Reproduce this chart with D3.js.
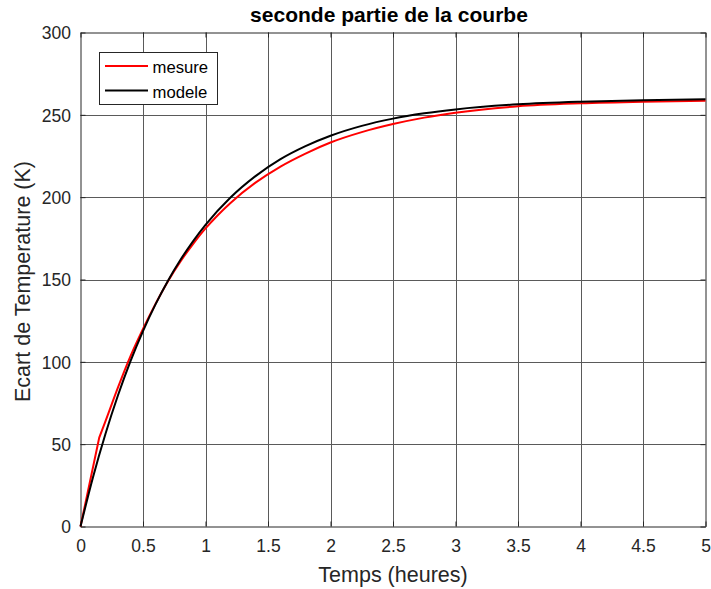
<!DOCTYPE html>
<html><head><meta charset="utf-8">
<script src="https://cdn.jsdelivr.net/npm/d3@7/dist/d3.min.js"></script>
<style>body{margin:0;background:#fff}svg{display:block}text{font-family:"Liberation Sans",Arial,sans-serif}</style>
</head><body>
<script>
const title = "seconde partie de la courbe";
const xLabel = "Temps (heures)";
const yLabel = "Ecart de Temperature (K)";
const xTicks = [0,0.5,1,1.5,2,2.5,3,3.5,4,4.5,5];
const yTicks = [0,50,100,150,200,250,300];
const seriesNames = ["mesure","modele"];
const seriesColors = ["#ff0000","#000000"];
const mesureT = [0,0.15,0.2,0.3,0.4,0.5,0.6,0.7,0.8,0.9,1.0,1.1,1.2,1.4,1.6,1.8,2.0,2.25,2.5,2.75,3.0,3.5,4.0,4.5,5.0];
const mesureV = [0,54,64,84.5,103.5,120,135.2,149,161,171.5,181,189.2,196.5,208.8,218.6,226.5,233.2,239.5,244.4,248.3,251.3,255.2,257,258,258.6];
const modeleT = [0,0.1,0.2,0.3,0.4,0.5,0.6,0.7,0.8,0.9,1.0,1.2,1.4,1.6,1.8,2.0,2.25,2.5,2.75,3.0,3.5,4.0,4.5,5.0];
const modeleV = [0,29.9,56.3,79.7,100.4,118.7,134.9,149.3,162.0,173.2,183.2,199.8,212.8,223.1,231.0,237.3,243.3,247.7,250.9,253.3,256.4,258.0,258.9,259.4];

const W=711,H=589;
const m={l:80.5,r:705.5,t:32.5,b:526.5};
const FONT='"Liberation Sans",Arial,sans-serif';
const svg=d3.select("body").append("svg").attr("width",W).attr("height",H);
const x=d3.scaleLinear().domain([0,5]).range([m.l,m.r]);
const y=d3.scaleLinear().domain([0,300]).range([m.b,m.t]);

// grid
const g=svg.append("g");
g.selectAll(".gx").data(xTicks.slice(1,-1)).enter().append("line")
 .attr("x1",d=>Math.round(x(d))+0.5).attr("x2",d=>Math.round(x(d))+0.5).attr("y1",m.t).attr("y2",m.b)
 .attr("stroke","#5a5a5a").attr("stroke-width",1);
g.selectAll(".gy").data(yTicks.slice(1,-1)).enter().append("line")
 .attr("y1",d=>Math.round(y(d))+0.5).attr("y2",d=>Math.round(y(d))+0.5).attr("x1",m.l).attr("x2",m.r)
 .attr("stroke","#5a5a5a").attr("stroke-width",1);

// axes
const axColor="#262626";
const xa=svg.append("g").attr("transform",`translate(0,${m.b})`).call(d3.axisBottom(x).tickValues(xTicks).tickFormat(d3.format("")).tickSizeInner(-5).tickSizeOuter(0).tickPadding(13));
const ya=svg.append("g").attr("transform",`translate(${m.l},0)`).call(d3.axisLeft(y).tickValues(yTicks).tickSizeInner(-5).tickSizeOuter(0).tickPadding(9.5));
const xt=svg.append("g").attr("transform",`translate(0,${m.t})`).call(d3.axisTop(x).tickValues(xTicks).tickFormat("").tickSizeInner(-5).tickSizeOuter(0));
const yr=svg.append("g").attr("transform",`translate(${m.r},0)`).call(d3.axisRight(y).tickValues(yTicks).tickFormat("").tickSizeInner(-5).tickSizeOuter(0));
[xa,ya,xt,yr].forEach(a=>{a.selectAll("path,line").attr("stroke",axColor);a.selectAll("text").attr("fill",axColor).style("font-size","17.5px").style("font-family",FONT);});
ya.selectAll("text").attr("dy","0.36em");

// lines
const line=d3.line().x(d=>x(d[0])).y(d=>y(d[1])).curve(d3.curveMonotoneX);
const mes=d3.zip(mesureT,mesureV), mod=d3.zip(modeleT,modeleV);
svg.append("path").attr("d",d3.line().x(d=>x(d[0])).y(d=>y(d[1]))(mes.slice(0,2))+line(mes.slice(1)).replace(/^M/,"L")).attr("fill","none").attr("stroke",seriesColors[0]).attr("stroke-width",2);
svg.append("path").datum(mod).attr("d",line).attr("fill","none").attr("stroke",seriesColors[1]).attr("stroke-width",2);

// titles
svg.append("text").attr("x",389).attr("y",22).attr("text-anchor","middle").style("font-weight","bold").style("font-size","21px").attr("fill","#000").text(title);
svg.append("text").attr("x",(m.l+m.r)/2).attr("y",582).attr("text-anchor","middle").style("font-size","21.5px").attr("fill",axColor).text(xLabel);
svg.append("text").attr("transform",`translate(30,${(m.t+m.b)/2+2}) rotate(-90)`).attr("text-anchor","middle").style("font-size","21.5px").attr("fill",axColor).text(yLabel);

// legend
const lg=svg.append("g");
lg.append("rect").attr("x",99.5).attr("y",52.5).attr("width",118).attr("height",52).attr("fill","#fff").attr("stroke",axColor).attr("stroke-width",1);
seriesNames.forEach((n,i)=>{
  const yy=66+i*24.5;
  lg.append("line").attr("x1",105).attr("x2",148).attr("y1",yy).attr("y2",yy).attr("stroke",seriesColors[i]).attr("stroke-width",2);
  lg.append("text").attr("x",152.5).attr("y",yy+7).style("font-size","16.7px").attr("fill","#000").text(n);
});
</script>
</body></html>
